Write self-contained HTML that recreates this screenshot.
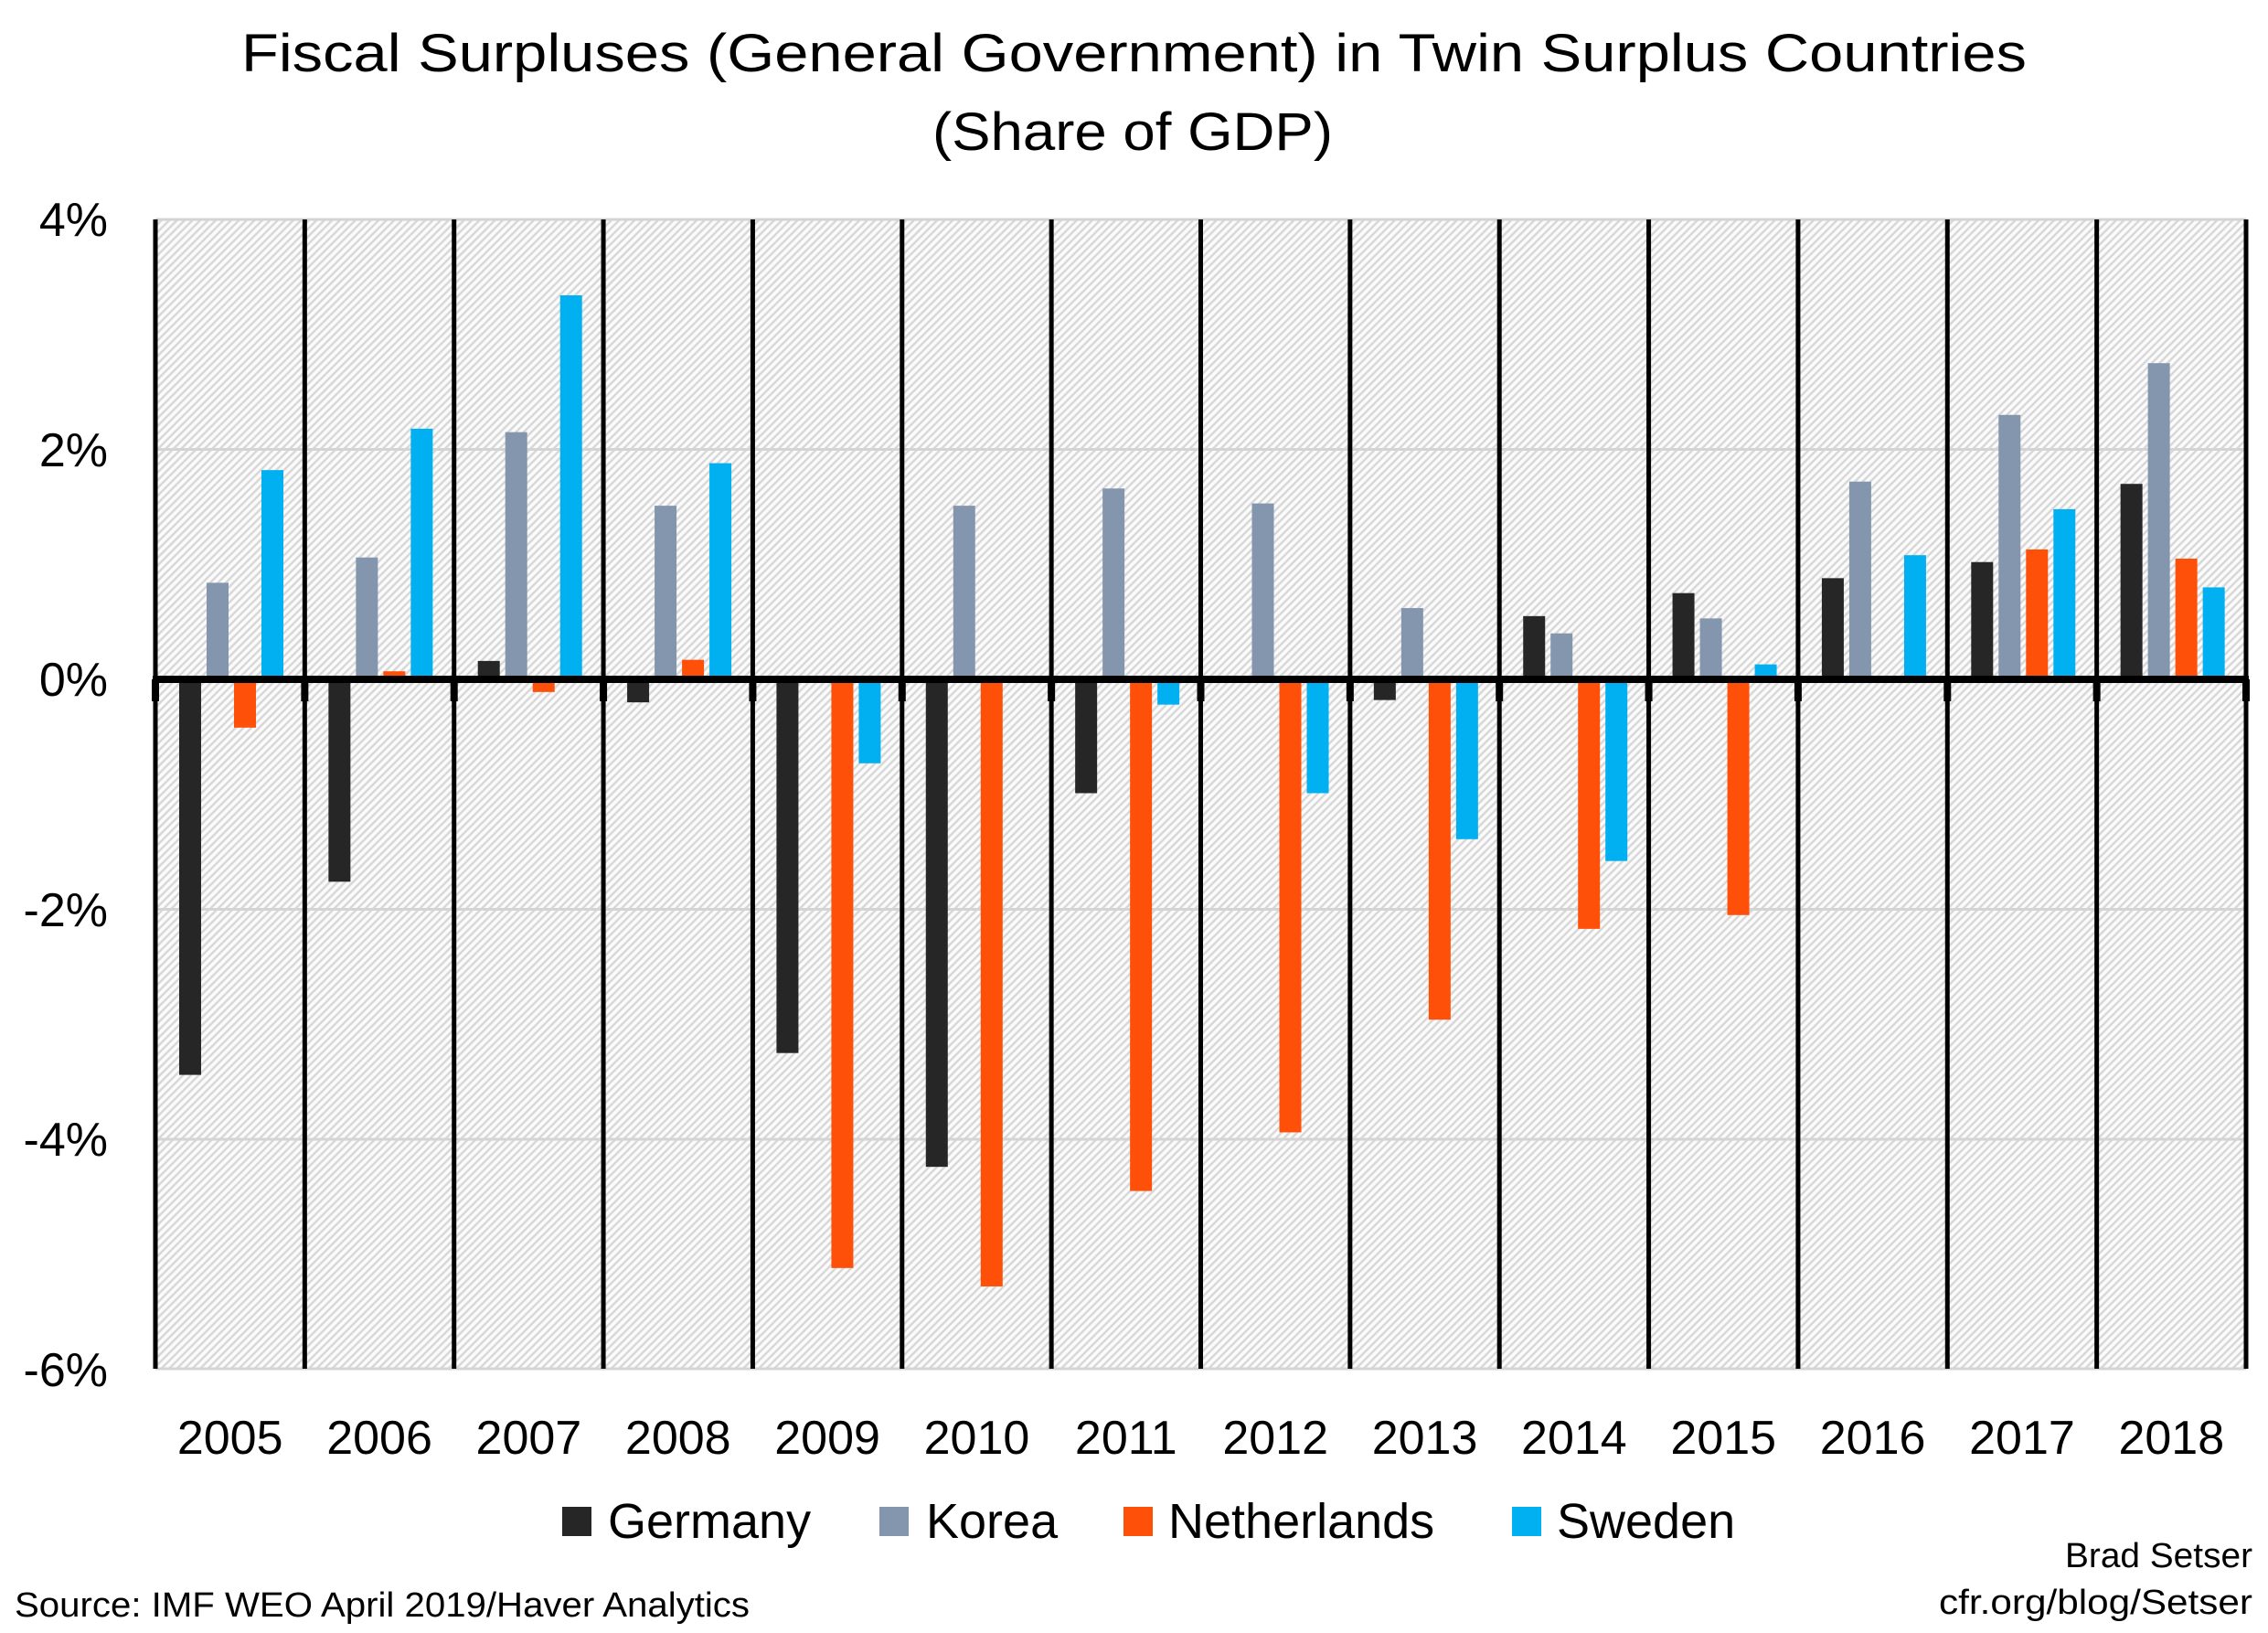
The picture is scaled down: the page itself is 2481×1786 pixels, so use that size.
<!DOCTYPE html>
<html><head><meta charset="utf-8"><style>
html,body{margin:0;padding:0;background:#fff;}
svg{display:block;font-family:"Liberation Sans",sans-serif;}
</style></head><body>
<svg width="2481" height="1786" viewBox="0 0 2481 1786" xmlns="http://www.w3.org/2000/svg">
<defs>
<pattern id="h" width="6" height="6" patternUnits="userSpaceOnUse" patternTransform="rotate(45)">
<rect width="6" height="6" fill="#fbfbfb"/>
<rect width="2.5" height="6" fill="#d8d8d8"/>
</pattern>
</defs>
<text x="264" y="78" font-size="58" textLength="1953" lengthAdjust="spacingAndGlyphs">Fiscal Surpluses (General Government) in Twin Surplus Countries</text>
<text x="1020" y="164" font-size="58" textLength="438" lengthAdjust="spacingAndGlyphs">(Share of GDP)</text>
<rect x="170" y="240" width="2287" height="1257" fill="url(#h)"/>
<g stroke="#d4d4d4" stroke-width="3">
<line x1="170" y1="240" x2="2457" y2="240"/>
<line x1="170" y1="491.5" x2="2457" y2="491.5"/>
<line x1="170" y1="994.5" x2="2457" y2="994.5"/>
<line x1="170" y1="1246" x2="2457" y2="1246"/>
<line x1="170" y1="1497" x2="2457" y2="1497"/>
</g>
<g font-size="52" text-anchor="end">
<text x="118" y="258">4%</text>
<text x="118" y="510">2%</text>
<text x="118" y="761">0%</text>
<text x="118" y="1013">-2%</text>
<text x="118" y="1264">-4%</text>
<text x="118" y="1516">-6%</text>
</g>
<g id="bars"></g>
<g id="lines"></g>
<g id="years" font-size="52" text-anchor="middle"></g>
<g font-size="54">
<rect x="615" y="1648" width="32" height="32" fill="#262626"/><text x="665" y="1682">Germany</text>
<rect x="962" y="1648" width="32" height="32" fill="#8496ae"/><text x="1013" y="1682">Korea</text>
<rect x="1229" y="1648" width="32" height="32" fill="#ff5009"/><text x="1278" y="1682">Netherlands</text>
<rect x="1654" y="1648" width="32" height="32" fill="#00b0f0"/><text x="1703" y="1682">Sweden</text>
</g>
<text x="16" y="1768" font-size="38" textLength="804" lengthAdjust="spacingAndGlyphs">Source: IMF WEO April 2019/Haver Analytics</text>
<text x="2259" y="1714" font-size="38" textLength="205" lengthAdjust="spacingAndGlyphs">Brad Setser</text>
<text x="2121" y="1765" font-size="38" textLength="343" lengthAdjust="spacingAndGlyphs">cfr.org/blog/Setser</text>
<script>
var d=[[-3.44,0.84,-0.42,1.82],[-1.76,1.06,0.07,2.18],[0.16,2.15,-0.11,3.34],[-0.2,1.51,0.17,1.88],[-3.25,0,-5.12,-0.73],[-4.24,1.51,-5.28,0],[-0.99,1.66,-4.45,-0.22],[0,1.53,-3.94,-0.99],[-0.18,0.62,-2.96,-1.39],[0.55,0.4,-2.17,-1.58],[0.75,0.53,-2.05,0.13],[0.88,1.72,0,1.08],[1.02,2.3,1.13,1.48],[1.7,2.75,1.05,0.8]];
var c=["#262626","#8496ae","#ff5009","#00b0f0"],ns="http://www.w3.org/2000/svg";
var L=170,W=(2457-170)/14,Z=743,U=125.75,b=document.getElementById("bars"),l=document.getElementById("lines"),y=document.getElementById("years");
function el(t,a,p){var e=document.createElementNS(ns,t);for(var k in a)e.setAttribute(k,a[k]);p.appendChild(e);return e;}
for(var i=0;i<14;i++){var x0=L+i*W;
for(var j=0;j<4;j++){var v=d[i][j];if(v==0)continue;var h=Math.abs(v)*U;el("rect",{x:x0+26+j*30,y:v>0?Z-h:Z,width:24,height:h,fill:c[j]},b);}
var t=el("text",{x:x0+W/2,y:1590},y);t.textContent=2005+i;}
for(var i=0;i<=14;i++){var x=L+i*W;el("line",{x1:x,y1:240,x2:x,y2:1497,stroke:"#000","stroke-width":5},l);el("line",{x1:x,y1:Z,x2:x,y2:Z+24,stroke:"#000","stroke-width":8},l);}
el("line",{x1:L-3,y1:Z,x2:2460,y2:Z,stroke:"#000","stroke-width":8},l);
</script>
</svg>
</body></html>
